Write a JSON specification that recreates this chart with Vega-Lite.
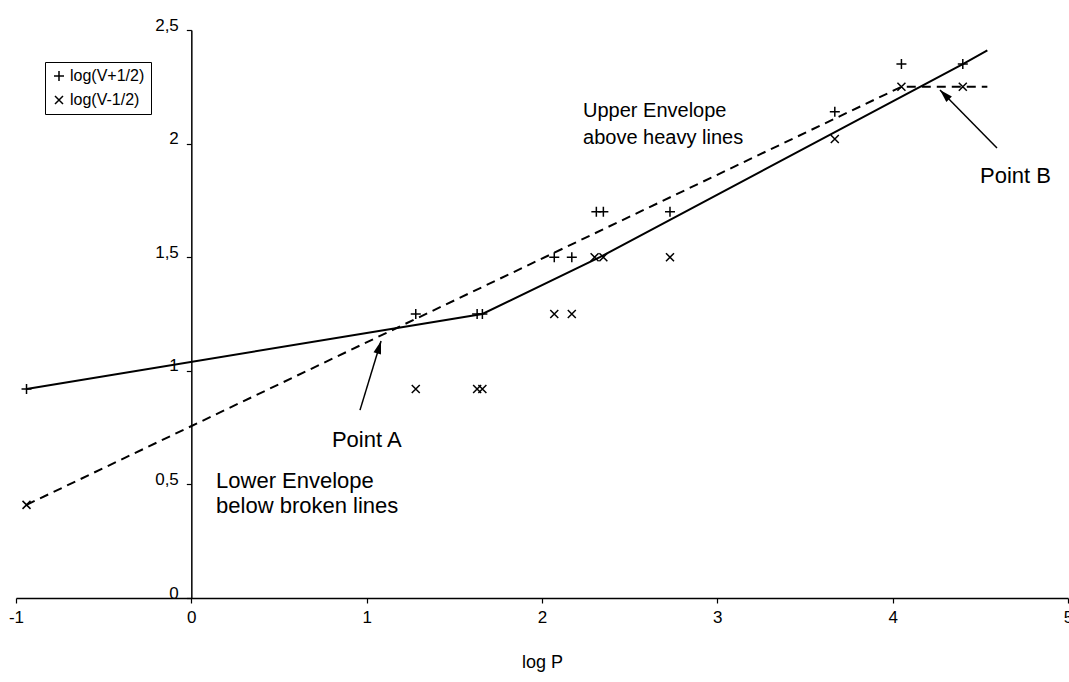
{
  "$schema": "https://vega.github.io/schema/vega-lite/v6.json",
  "width": 1052,
  "height": 568,
  "autosize": {"type": "none"},
  "padding": {"left": 16, "top": 30, "right": 1, "bottom": 84},
  "background": "white",
  "config": {
    "font": "Liberation Sans",
    "view": {"stroke": null},
    "axis": {
      "grid": false,
      "domainColor": "black",
      "domainWidth": 1.5,
      "tickColor": "black",
      "tickWidth": 1.2,
      "tickSize": 5,
      "labelColor": "black",
      "labelFont": "Liberation Sans",
      "labelFontSize": 17,
      "titleColor": "black",
      "titleFont": "Liberation Sans",
      "titleFontSize": 18,
      "titleFontWeight": "normal",
      "labelFlush": false,
      "labelOverlap": false,
      "labelBound": false
    },
    "axisX": {"labelPadding": 6, "titlePadding": 28},
    "axisY": {"labelPadding": 8, "offset": -175.33, "labelBaseline": "alphabetic"}
  },
  "datasets": {
    "pts": [
      {"x": -0.94, "y": 0.92, "series": "log(V+1/2)"},
      {"x": 1.28, "y": 1.25, "series": "log(V+1/2)"},
      {"x": 1.63, "y": 1.25, "series": "log(V+1/2)"},
      {"x": 1.66, "y": 1.25, "series": "log(V+1/2)"},
      {"x": 2.07, "y": 1.50, "series": "log(V+1/2)"},
      {"x": 2.17, "y": 1.50, "series": "log(V+1/2)"},
      {"x": 2.31, "y": 1.70, "series": "log(V+1/2)"},
      {"x": 2.35, "y": 1.70, "series": "log(V+1/2)"},
      {"x": 2.73, "y": 1.70, "series": "log(V+1/2)"},
      {"x": 3.67, "y": 2.14, "series": "log(V+1/2)"},
      {"x": 4.05, "y": 2.35, "series": "log(V+1/2)"},
      {"x": 4.40, "y": 2.35, "series": "log(V+1/2)"},
      {"x": -0.94, "y": 0.41, "series": "log(V-1/2)"},
      {"x": 1.28, "y": 0.92, "series": "log(V-1/2)"},
      {"x": 1.63, "y": 0.92, "series": "log(V-1/2)"},
      {"x": 1.66, "y": 0.92, "series": "log(V-1/2)"},
      {"x": 2.07, "y": 1.25, "series": "log(V-1/2)"},
      {"x": 2.17, "y": 1.25, "series": "log(V-1/2)"},
      {"x": 2.30, "y": 1.50, "series": "log(V-1/2)"},
      {"x": 2.35, "y": 1.50, "series": "log(V-1/2)"},
      {"x": 2.73, "y": 1.50, "series": "log(V-1/2)"},
      {"x": 3.67, "y": 2.02, "series": "log(V-1/2)"},
      {"x": 4.05, "y": 2.25, "series": "log(V-1/2)"},
      {"x": 4.40, "y": 2.25, "series": "log(V-1/2)"}
    ],
    "solid": [
      {"x": -0.94, "y": 0.92},
      {"x": 1.66, "y": 1.25},
      {"x": 2.33, "y": 1.50},
      {"x": 4.40, "y": 2.35},
      {"x": 4.54, "y": 2.41}
    ],
    "dashed": [
      {"x": -0.94, "y": 0.41},
      {"x": 4.05, "y": 2.25},
      {"x": 4.54, "y": 2.25}
    ],
    "arrows": [
      {"name": "A", "x": 0.962, "y": 0.827, "x2": 1.082, "y2": 1.131},
      {"name": "B", "x": 4.595, "y": 1.981, "x2": 4.270, "y2": 2.236}
    ],
    "notesUpper": [
      {"x": 2.234, "y": 2.117, "text": "Upper Envelope\nabove heavy lines"}
    ],
    "notesOther": [
      {"x": 0.141, "y": 0.484, "text": "Lower Envelope\nbelow broken lines"},
      {"x": 0.802, "y": 0.665, "text": "Point A"},
      {"x": 4.498, "y": 1.827, "text": "Point B"}
    ]
  },
  "layer": [
    {
      "data": {"name": "pts"},
      "mark": {"type": "point", "filled": false, "color": "black", "strokeWidth": 1.5, "size": 100, "opacity": 1},
      "encoding": {
        "x": {
          "field": "x", "type": "quantitative", "title": "log P",
          "scale": {"domain": [-1, 5], "nice": false, "zero": false},
          "axis": {"values": [-1, 0, 1, 2, 3, 4, 5], "format": "~g", "labelExpr": "replace(datum.label, '\u2212', '-')"}
        },
        "y": {
          "field": "y", "type": "quantitative", "title": null,
          "scale": {"domain": [0, 2.5], "nice": false, "zero": false},
          "axis": {"values": [0, 0.5, 1, 1.5, 2, 2.5], "format": "~g", "labelExpr": "replace(datum.label, '.', ',')"}
        },
        "shape": {
          "field": "series", "type": "nominal",
          "scale": {
            "domain": ["log(V+1/2)", "log(V-1/2)"],
            "range": ["M-1,0L1,0M0,-1L0,1", "M-0.8,-0.8L0.8,0.8M-0.8,0.8L0.8,-0.8"]
          },
          "legend": {
            "title": null, "orient": "none", "legendX": 29, "legendY": 32,
            "strokeColor": "black", "fillColor": "white", "padding": 6,
            "labelFontSize": 16, "labelColor": "black", "labelFont": "Liberation Sans",
            "symbolSize": 100, "symbolStrokeWidth": 1.5, "symbolStrokeColor": "black",
            "symbolFillColor": "transparent", "symbolOpacity": 1,
            "rowPadding": 8, "labelOffset": 3
          }
        }
      }
    },
    {
      "mark": {"type": "rule", "color": "black", "strokeWidth": 1.5},
      "encoding": {"x": {"datum": -1}}
    },
    {
      "mark": {"type": "rule", "color": "black", "strokeWidth": 1.5},
      "encoding": {"y": {"datum": 2.5}}
    },
    {
      "data": {"name": "solid"},
      "mark": {"type": "line", "color": "black", "strokeWidth": 2},
      "encoding": {
        "x": {"field": "x", "type": "quantitative", "title": "log P"},
        "y": {"field": "y", "type": "quantitative", "title": null}
      }
    },
    {
      "data": {"name": "dashed"},
      "mark": {"type": "line", "color": "black", "strokeWidth": 2, "strokeDash": [9, 6]},
      "encoding": {
        "x": {"field": "x", "type": "quantitative", "title": "log P"},
        "y": {"field": "y", "type": "quantitative", "title": null}
      }
    },
    {
      "data": {"name": "arrows"},
      "mark": {"type": "rule", "color": "black", "strokeWidth": 1.5},
      "encoding": {
        "x": {"field": "x", "type": "quantitative", "title": "log P"},
        "y": {"field": "y", "type": "quantitative", "title": null},
        "x2": {"field": "x2", "title": "log P"},
        "y2": {"field": "y2", "title": null}
      }
    },
    {
      "data": {"name": "arrows"},
      "transform": [{"filter": "datum.name == 'A'"}],
      "mark": {"type": "point", "shape": "M0,0L-0.3,1L0.3,1Z", "filled": true, "color": "black", "size": 676, "angle": 17, "opacity": 1},
      "encoding": {
        "x": {"field": "x2", "type": "quantitative", "title": "log P"},
        "y": {"field": "y2", "type": "quantitative", "title": null}
      }
    },
    {
      "data": {"name": "arrows"},
      "transform": [{"filter": "datum.name == 'B'"}],
      "mark": {"type": "point", "shape": "M0,0L-0.3,1L0.3,1Z", "filled": true, "color": "black", "size": 676, "angle": 315.5, "opacity": 1},
      "encoding": {
        "x": {"field": "x2", "type": "quantitative", "title": "log P"},
        "y": {"field": "y2", "type": "quantitative", "title": null}
      }
    },
    {
      "data": {"name": "notesUpper"},
      "mark": {"type": "text", "align": "left", "baseline": "alphabetic", "fontSize": 20, "lineHeight": 27, "lineBreak": "\n", "color": "black", "font": "Liberation Sans"},
      "encoding": {
        "x": {"field": "x", "type": "quantitative", "title": "log P"},
        "y": {"field": "y", "type": "quantitative", "title": null},
        "text": {"field": "text"}
      }
    },
    {
      "data": {"name": "notesOther"},
      "mark": {"type": "text", "align": "left", "baseline": "alphabetic", "fontSize": 22, "lineHeight": 25, "lineBreak": "\n", "color": "black", "font": "Liberation Sans"},
      "encoding": {
        "x": {"field": "x", "type": "quantitative", "title": "log P"},
        "y": {"field": "y", "type": "quantitative", "title": null},
        "text": {"field": "text"}
      }
    }
  ]
}
